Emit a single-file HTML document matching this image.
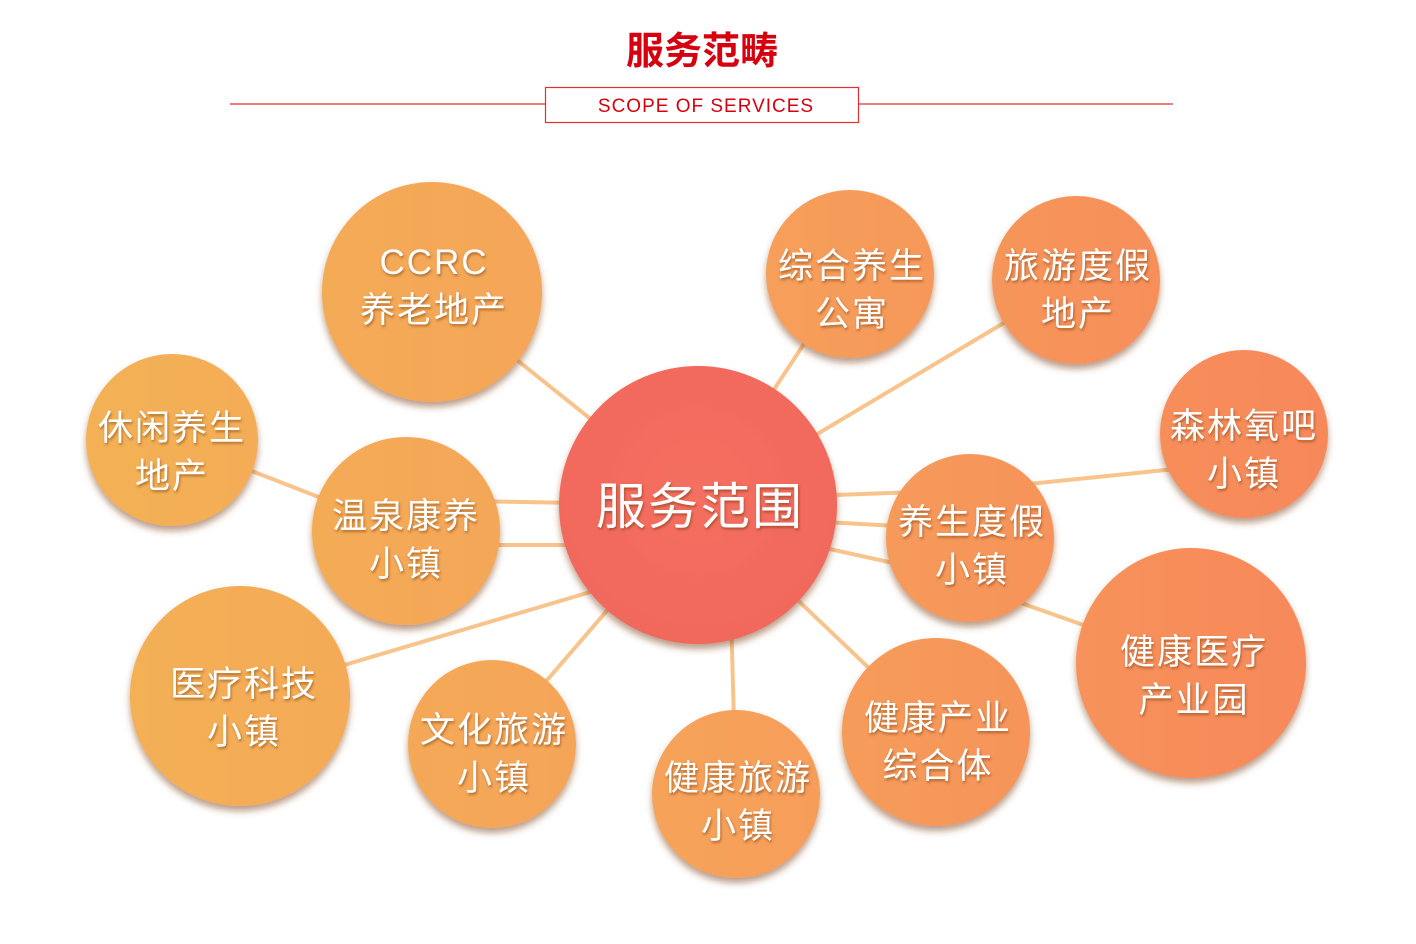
<!DOCTYPE html>
<html><head><meta charset="utf-8">
<style>
html,body{margin:0;padding:0;background:#fff;width:1416px;height:944px;overflow:hidden}
svg{display:block}
.t{font-family:"Liberation Sans","Noto Sans CJK SC",sans-serif;fill:#fff;text-anchor:middle;letter-spacing:2px}
</style></head><body>
<svg width="1416" height="944" viewBox="0 0 1416 944">
<defs>
<linearGradient id="og" gradientUnits="userSpaceOnUse" x1="120" y1="0" x2="1320" y2="0">
<stop offset="0" stop-color="#f3b055"/><stop offset="0.5" stop-color="#f6a15a"/><stop offset="1" stop-color="#f7885a"/>
</linearGradient>
<radialGradient id="cg" cx="0.5" cy="0.45" r="0.6"><stop offset="0" stop-color="#f56f60"/><stop offset="1" stop-color="#f0685c"/></radialGradient>
<filter id="sh" x="-20%" y="-20%" width="140%" height="150%">
<feDropShadow dx="0" dy="5" stdDeviation="3.5" flood-color="#7a3c0a" flood-opacity="0.5"/>
</filter>
<filter id="ts"><feDropShadow dx="1" dy="2" stdDeviation="1.2" flood-color="#6a3000" flood-opacity="0.5"/></filter>
</defs>
<text x="702" y="64" font-family="Liberation Sans,Noto Sans CJK SC,sans-serif" font-weight="bold" font-size="38" fill="#d7000f" text-anchor="middle">服务范畴</text>
<line x1="230" y1="104" x2="545" y2="104" stroke="#e03030" stroke-width="1.2"/>
<line x1="858" y1="104" x2="1173" y2="104" stroke="#e03030" stroke-width="1.2"/>
<rect x="545.5" y="87.5" width="313" height="35" fill="#fff" stroke="#e03030" stroke-width="1.2"/>
<text x="706" y="112" font-family="Liberation Sans,sans-serif" font-size="19" fill="#d7000f" text-anchor="middle" letter-spacing="1">SCOPE OF SERVICES</text>
<g stroke="#f8c48c" stroke-width="4" fill="none">
<line x1="698" y1="505" x2="432" y2="292"/>
<line x1="698" y1="505" x2="850" y2="274"/>
<line x1="698" y1="505" x2="1076" y2="280"/>
<line x1="406" y1="531" x2="172" y2="440"/>
<line x1="698" y1="505" x2="406" y2="500"/>
<line x1="698" y1="545" x2="406" y2="545"/>
<line x1="1244" y1="462" x2="970" y2="490"/>
<line x1="698" y1="500" x2="970" y2="490"/>
<line x1="698" y1="515" x2="970" y2="530"/>
<line x1="698" y1="520" x2="970" y2="580"/>
<line x1="970" y1="585" x2="1191" y2="663"/>
<line x1="698" y1="560" x2="240" y2="696"/>
<line x1="698" y1="505" x2="492" y2="744"/>
<line x1="728" y1="505" x2="736" y2="794"/>
<line x1="698" y1="505" x2="936" y2="732"/>
</g>
<g fill="url(#og)" filter="url(#sh)">
<circle cx="432" cy="292" r="110"/>
<circle cx="850" cy="274" r="84"/>
<circle cx="1076" cy="280" r="84"/>
<circle cx="172" cy="440" r="86"/>
<circle cx="406" cy="531" r="94"/>
<circle cx="1244" cy="434" r="84"/>
<circle cx="970" cy="538" r="84"/>
<circle cx="240" cy="696" r="110"/>
<circle cx="492" cy="744" r="84"/>
<circle cx="736" cy="794" r="84"/>
<circle cx="936" cy="732" r="94"/>
<circle cx="1191" cy="663" r="115"/>
<circle cx="698" cy="505" r="139" fill="url(#cg)"/>
</g>
<g class="t" font-size="35" filter="url(#ts)">
<text class="t" x="434" y="274">CCRC</text><text class="t" x="434" y="322">养老地产</text>
<text class="t" x="852" y="278">综合养生</text><text class="t" x="852" y="326">公寓</text>
<text class="t" x="1078" y="278">旅游度假</text><text class="t" x="1078" y="326">地产</text>
<text class="t" x="172" y="440">休闲养生</text><text class="t" x="172" y="488">地产</text>
<text class="t" x="406" y="528">温泉康养</text><text class="t" x="406" y="576">小镇</text>
<text class="t" x="1244" y="438">森林氧吧</text><text class="t" x="1244" y="486">小镇</text>
<text class="t" x="972" y="534">养生度假</text><text class="t" x="972" y="582">小镇</text>
<text class="t" x="244" y="696">医疗科技</text><text class="t" x="244" y="744">小镇</text>
<text class="t" x="494" y="742">文化旅游</text><text class="t" x="494" y="790">小镇</text>
<text class="t" x="738" y="790">健康旅游</text><text class="t" x="738" y="838">小镇</text>
<text class="t" x="938" y="730">健康产业</text><text class="t" x="938" y="778">综合体</text>
<text class="t" x="1194" y="664">健康医疗</text><text class="t" x="1194" y="712">产业园</text>
<text class="t" x="700" y="524" font-size="50">服务范围</text>
</g>
</svg>
</body></html>
